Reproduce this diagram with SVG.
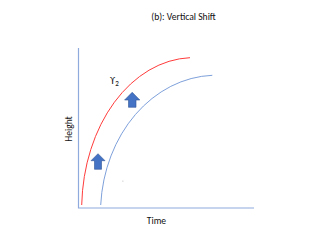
<svg xmlns="http://www.w3.org/2000/svg" width="320" height="242" viewBox="0 0 320 242">
<style>
.t{font-family:Carlito,"Liberation Sans",Arial,sans-serif;fill:#111}
.ax{stroke:#8FAADC;stroke-width:1.2;fill:none}
.arr{fill:#4472C4;stroke:#2F5597;stroke-width:0.6}
</style>
<rect width="320" height="242" fill="#fff"/>
<text class="t" x="183.5" y="19.5" font-size="9.6" text-anchor="middle">(b): Vertical Shift</text>
<g id="axes">
<path class="ax" d="M78.5,48 V208 H254"/>
</g>
<text class="t" x="156.5" y="224" font-size="9.6" text-anchor="middle">Time</text>
<text class="t" font-size="9.6" text-anchor="middle" transform="translate(71.5,129) rotate(-90)">Height</text>
<g id="curves">
<path id="red-curve" d="M81.7,205 A112,152 0 0 1 190,57.7" fill="none" stroke="#FF3B3B" stroke-width="1"/>
<path id="blue-curve" d="M100.7,205 A116,138 0 0 1 212.3,75.3" fill="none" stroke="#6F95D6" stroke-width="0.9"/>
</g>
<g id="arrow1"><path class="arr" d="M98,153.7 L105,160.7 L101.5,160.7 L101.5,169.3 L94.5,169.3 L94.5,160.7 L91,160.7 Z"/></g>
<g id="arrow2"><path class="arr" d="M132.2,92.3 L139.8,100 L136,100 L136,107.3 L128.5,107.3 L128.5,100 L124.6,100 Z"/></g>
<text class="t" x="110" y="84" font-size="10.5">ϒ<tspan font-size="7" dy="1.5">2</tspan></text>
<rect x="122.5" y="180.7" width="0.8" height="0.8" fill="#999"/>
</svg>
